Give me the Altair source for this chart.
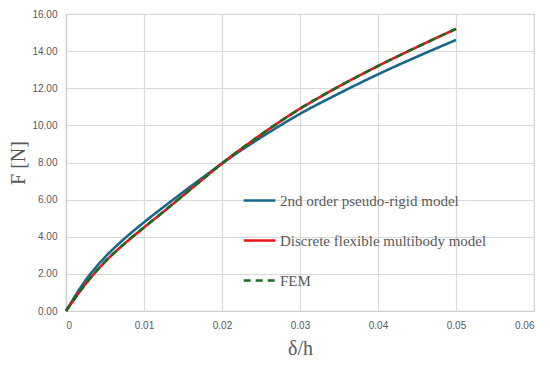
import altair as alt
import pandas as pd

delta = [0, 0.0025, 0.005, 0.0075, 0.01, 0.0125, 0.015, 0.0175, 0.02,
         0.025, 0.03, 0.035, 0.04, 0.045, 0.05]
f_prb = [0, 1.65, 2.9, 3.9, 4.78, 5.6, 6.4, 7.18, 7.95,
         9.35, 10.62, 11.72, 12.75, 13.7, 14.6]
f_dfm = [0, 1.45, 2.65, 3.63, 4.5, 5.35, 6.22, 7.09, 7.95,
         9.5, 10.9, 12.1, 13.2, 14.22, 15.2]
f_fem = [0, 1.45, 2.65, 3.63, 4.5, 5.35, 6.22, 7.09, 7.95,
         9.5, 10.9, 12.1, 13.2, 14.22, 15.2]

series = ["2nd order pseudo-rigid model", "Discrete flexible multibody model", "FEM"]
colors = ["#17678A", "#E8151B", "#1A6B1F"]
dashes = [[1, 0], [1, 0], [7, 5]]

rows = []
for name, vals in zip(series, [f_prb, f_dfm, f_fem]):
    for d, v in zip(delta, vals):
        rows.append({"delta": d, "F": v, "series": name})
df = pd.DataFrame(rows)

chart = alt.Chart(df).mark_line(strokeWidth=2.6, interpolate="monotone").encode(
    x=alt.X("delta:Q", scale=alt.Scale(domain=[0, 0.06], nice=False),
            axis=alt.Axis(values=[0, 0.01, 0.02, 0.03, 0.04, 0.05, 0.06],
                          labelExpr="datum.value == 0 ? '0' : format(datum.value, '.2f')",
                          title="δ/h", titleFont="Liberation Serif", titleFontSize=20,
                          titleFontWeight="normal", titleColor="#595959",
                          titlePadding=8)),
    y=alt.Y("F:Q", scale=alt.Scale(domain=[0, 16], nice=False),
            axis=alt.Axis(values=[0, 2, 4, 6, 8, 10, 12, 14, 16], format=".2f",
                          title="F [N]", titleFont="Liberation Serif", titleFontSize=20,
                          titleFontWeight="normal", titleColor="#595959",
                          titlePadding=3)),
    color=alt.Color("series:N", scale=alt.Scale(domain=series, range=colors),
                    legend=alt.Legend(title=None, orient="none", legendX=176, legendY=169,
                                      symbolType="stroke", symbolSize=1000,
                                      symbolStrokeWidth=2.6, rowPadding=14,
                                      labelFont="Liberation Serif", labelFontSize=15,
                                      labelColor="#595959", labelOffset=3,
                                      labelLimit=400)),
    strokeDash=alt.StrokeDash("series:N", scale=alt.Scale(domain=series, range=dashes),
                              legend=None),
    order=alt.Order("series:N"),
).properties(
    width=534, height=353,
    autosize=alt.AutoSizeParams(type="fit", contains="padding"),
    padding={"left": 0, "top": 1, "right": 8, "bottom": 3}
).configure_axis(
    grid=True, gridColor="#D9D9D9", gridWidth=1.2, domainColor="#D0D0D0", domainWidth=1.2,
    ticks=False, labelFont="Liberation Sans", labelFontSize=10, labelColor="#595959",
    labelPadding=9
).configure_view(stroke="#D9D9D9", strokeWidth=1.2)

chart.save("out.html", embed_options={"renderer": "svg", "actions": False})
